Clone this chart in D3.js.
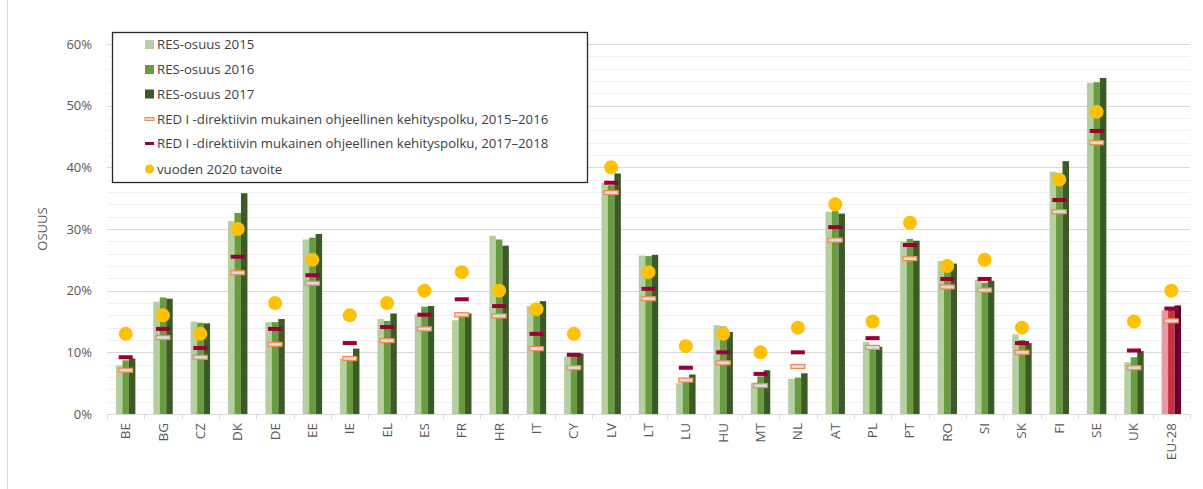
<!DOCTYPE html>
<html>
<head>
<meta charset="utf-8">
<script src="https://cdn.jsdelivr.net/npm/d3@7"></script>
<style>
  html, body { margin: 0; padding: 0; background: #fff; }
  svg { display: block; }
  text { font-family: "Open Sans", "Liberation Sans", sans-serif; }
</style>
</head>
<body>
<svg id="chart" width="1203" height="489"></svg>
<script>
const categories = ["BE","BG","CZ","DK","DE","EE","IE","EL","ES","FR","HR","IT","CY","LV","LT","LU","HU","MT","NL","AT","PL","PT","RO","SI","SK","FI","SE","UK","EU-28"];
const res2015 = [7.9,18.2,15.0,31.3,14.9,28.3,9.0,15.4,16.2,15.2,28.9,17.5,9.3,37.5,25.7,5.0,14.4,5.1,5.7,32.8,11.7,28.0,24.8,21.8,12.9,39.3,53.7,8.4,16.8];
const res2016 = [8.7,18.9,14.8,32.6,14.9,28.6,9.0,15.1,17.4,16.1,28.3,17.4,9.7,37.1,25.6,5.6,14.2,6.1,5.9,32.9,11.2,28.4,24.6,21.3,12.0,39.1,53.8,9.2,17.1];
const res2017 = [9.0,18.7,14.7,35.8,15.4,29.2,10.6,16.3,17.5,16.3,27.3,18.3,9.8,39.0,25.8,6.4,13.3,7.1,6.6,32.5,10.9,28.1,24.4,21.6,11.5,41.0,54.5,10.2,17.6];
const path1516 = [7.1,12.4,9.2,22.9,11.3,21.2,9.0,11.9,13.8,16.1,15.9,10.6,7.5,35.9,18.7,5.5,8.3,4.6,7.7,28.2,10.8,25.2,20.6,20.1,10.0,32.8,44.0,7.5,15.1];
const path1718 = [9.2,13.8,10.7,25.5,13.8,22.5,11.5,14.1,16.1,18.6,17.5,13.0,9.6,37.5,20.3,7.5,10.0,6.5,10.0,30.3,12.3,27.4,21.9,21.9,11.5,34.7,45.9,10.3,17.1];
const target2020 = [13,16,13,30,18,25,16,18,20,23,20,17,13,40,23,11,13,10,14,34,15,31,24,25,14,38,49,15,20];
const yTicks = [0,10,20,30,40,50,60];
const legendLabels = ["RES-osuus 2015","RES-osuus 2016","RES-osuus 2017","RED I -direktiivin mukainen ohjeellinen kehityspolku, 2015–2016","RED I -direktiivin mukainen ohjeellinen kehityspolku, 2017–2018","vuoden 2020 tavoite"];
const yTitle = "OSUUS";

const greens = ["#b5cfa1","#699b3f","#3b5a26"];
const reds = ["#e69aa2","#c92f3f","#66002f"];
const colMarkerRed = "#990033";
const colMarkerOrangeStroke = "#ee8a4a";
const colMarkerOrangeFill = "#d6dce5";
const colTarget = "#ffc000";

const svg = d3.select("#chart");
svg.append("rect").attr("x",7.5).attr("y",-1).attr("width",1200).attr("height",495)
  .attr("fill","none").attr("stroke","#d9d9d9");

const pLeft = 107, pRight = 1190, pTop = 44, pBottom = 414;
const x = d3.scaleBand().domain(categories).range([pLeft, pRight]).padding(0);
const y = d3.scaleLinear().domain([0, 60]).range([pBottom, pTop]);
const groupW = x.bandwidth() * 0.52;
const xs = d3.scaleBand().domain([0,1,2]).range([0, groupW]).padding(0);

const minor = d3.range(0, 61, 2).filter(v => v % 10 !== 0);
svg.append("g").selectAll("line").data(minor).join("line")
  .attr("x1", pLeft).attr("x2", pRight)
  .attr("y1", d => Math.round(y(d)) + 0.5).attr("y2", d => Math.round(y(d)) + 0.5)
  .attr("stroke", "#f0f0f0").attr("stroke-width", 1);
svg.append("g").selectAll("line").data(yTicks.filter(d => d > 0)).join("line")
  .attr("x1", pLeft).attr("x2", pRight)
  .attr("y1", d => Math.round(y(d)) + 0.5).attr("y2", d => Math.round(y(d)) + 0.5)
  .attr("stroke", "#d9d9d9").attr("stroke-width", 1);

const yAxis = d3.axisLeft(y).tickValues(yTicks).tickFormat(d => d + "%").tickSize(0).tickPadding(15);
const gy = svg.append("g").attr("transform", `translate(${pLeft},0)`).call(yAxis);
gy.select(".domain").remove();
gy.selectAll("text").attr("font-size", 13).attr("fill", "#595959")
  .style("font-family", "Open Sans, sans-serif");

svg.append("text").attr("transform", `translate(47,${(pTop+pBottom)/2}) rotate(-90)`)
  .attr("text-anchor","middle").attr("font-size",13).attr("fill","#595959").text(yTitle);

const series = [res2015, res2016, res2017];
series.forEach((arr, si) => {
  svg.append("g").selectAll("rect").data(categories).join("rect")
    .attr("x", d => x(d) + (x.bandwidth() - groupW) / 2 + xs(si))
    .attr("width", xs.bandwidth())
    .attr("y", (d, i) => y(arr[i]))
    .attr("height", (d, i) => y(0) - y(arr[i]))
    .attr("fill", d => d === "EU-28" ? reds[si] : greens[si]);
});

const xAxis = d3.axisBottom(x).tickSize(0).tickPadding(0);
const gx = svg.append("g").attr("transform", `translate(0,${pBottom})`).call(xAxis);
gx.select(".domain").attr("stroke", "#d9d9d9");
gx.selectAll(".tick text").remove();
const seps = categories.map(c => x(c)).concat([pRight]);
svg.append("g").selectAll("line").data(seps).join("line")
  .attr("x1", d => Math.round(d) + 0.5).attr("x2", d => Math.round(d) + 0.5)
  .attr("y1", pBottom).attr("y2", pBottom + 5).attr("stroke", "#d9d9d9");
svg.append("line").attr("x1", pLeft).attr("x2", pRight).attr("y1", pBottom + 0.5).attr("y2", pBottom + 0.5)
  .attr("stroke", "#d9d9d9");
svg.append("g").selectAll("text").data(categories).join("text")
  .attr("transform", d => `translate(${x(d) + x.bandwidth()/2 + 4.5},${pBottom + 9}) rotate(-90)`)
  .attr("text-anchor", "end").attr("font-size", 13.5).attr("fill", "#595959").text(d => d);

const mW = 14;
svg.append("g").selectAll("rect").data(categories).join("rect")
  .attr("x", d => x(d) + x.bandwidth()/2 - mW/2)
  .attr("y", (d, i) => y(path1516[i]) - 2)
  .attr("width", mW).attr("height", 4)
  .attr("fill", colMarkerOrangeFill).attr("stroke", colMarkerOrangeStroke).attr("stroke-width", 1.2);
svg.append("g").selectAll("rect").data(categories).join("rect")
  .attr("x", d => x(d) + x.bandwidth()/2 - mW/2)
  .attr("y", (d, i) => y(path1718[i]) - 2)
  .attr("width", mW).attr("height", 4)
  .attr("fill", colMarkerRed);
svg.append("g").selectAll("circle").data(categories).join("circle")
  .attr("cx", d => x(d) + x.bandwidth()/2)
  .attr("cy", (d, i) => y(target2020[i]))
  .attr("r", 7).attr("fill", colTarget);

const lg = svg.append("g");
lg.append("rect").attr("x", 112.5).attr("y", 32.5).attr("width", 475).attr("height", 150)
  .attr("fill", "#fff").attr("stroke", "#262626").attr("stroke-width", 1.3);
const rowY = [44.5, 69.5, 94, 119, 143.5, 169];
legendLabels.forEach((lab, i) => {
  const cy = rowY[i];
  if (i < 3) {
    lg.append("rect").attr("x", 145).attr("y", cy - 4.5).attr("width", 9).attr("height", 9).attr("fill", greens[i]);
  } else if (i === 3) {
    lg.append("rect").attr("x", 145).attr("y", cy - 1.5).attr("width", 9).attr("height", 3)
      .attr("fill", colMarkerOrangeFill).attr("stroke", colMarkerOrangeStroke).attr("stroke-width", 1);
  } else if (i === 4) {
    lg.append("rect").attr("x", 145).attr("y", cy - 1.5).attr("width", 9).attr("height", 3).attr("fill", colMarkerRed);
  } else {
    lg.append("circle").attr("cx", 149.5).attr("cy", cy).attr("r", 4.5).attr("fill", colTarget);
  }
  lg.append("text").attr("x", 157).attr("y", cy + 4.8).attr("font-size", 13.2).attr("fill", "#404040").text(lab);
});
</script>
</body>
</html>
